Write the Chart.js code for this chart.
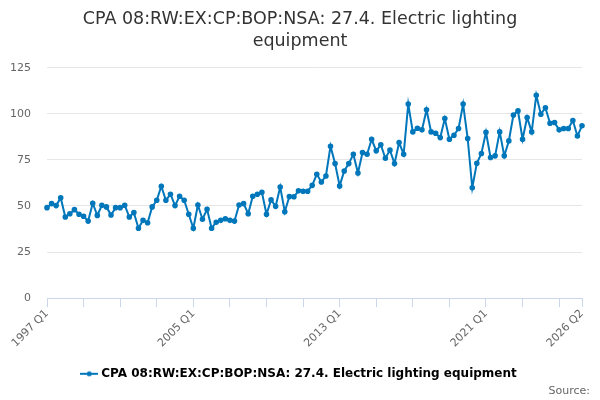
<!DOCTYPE html>
<html>
<head>
<meta charset="utf-8">
<script src="https://cdn.jsdelivr.net/npm/chart.js@4"></script>
<style>
  html, body { margin: 0; padding: 0; background: #fff; }
  #wrap { width: 600px; height: 400px; }
</style>
</head>
<body>
<div id="wrap"><canvas id="myChart"></canvas></div>
<script>
(() => {
  'use strict'

  const seriesName = 'CPA 08:RW:EX:CP:BOP:NSA: 27.4. Electric lighting equipment'
  const firstYear = 1997
  const quarters = ['Q1', 'Q2', 'Q3', 'Q4']
  const labelledQuarters = ['1997 Q1', '2005 Q1', '2013 Q1', '2021 Q1', '2026 Q2']
  const yTicks = [0, 25, 50, 75, 100, 125]

  // quarterly values, 1997 Q1 .. 2026 Q2
  const values = [
    49.1, 51.3, 50.2, 54.5, 44.0, 45.8, 48.0, 45.5, 44.4, 41.8,
    51.5, 44.9, 50.4, 49.5, 45.1, 49.1, 49.1, 50.4, 44.0, 46.4,
    37.9, 42.2, 40.9, 49.5, 53.1, 60.7, 53.1, 56.4, 50.2, 55.3,
    53.1, 45.5, 37.9, 50.5, 42.8, 48.2, 37.9, 41.2, 42.2, 43.1,
    42.2, 41.8, 50.5, 51.3, 45.8, 55.3, 56.4, 57.4, 45.5, 53.3,
    49.8, 60.3, 46.9, 55.1, 55.0, 58.2, 58.0, 58.0, 61.2, 67.2,
    63.0, 66.3, 82.4, 73.0, 60.9, 69.0, 73.0, 78.1, 67.9, 79.0,
    78.1, 86.2, 79.9, 83.2, 75.9, 80.3, 73.0, 84.4, 78.1, 105.3,
    90.2, 92.2, 91.3, 102.2, 90.2, 89.5, 87.1, 97.4, 86.2, 88.4,
    92.0, 105.3, 86.6, 59.9, 73.2, 78.5, 90.0, 76.3, 77.2, 90.2,
    77.2, 85.3, 99.3, 101.6, 86.2, 98.0, 90.2, 110.1, 99.8, 103.3,
    94.9, 95.3, 91.3, 92.0, 92.0, 96.4, 88.0, 93.5
  ]

  const labels = values.map((v, i) => (firstYear + Math.floor(i / 4)) + ' ' + quarters[i % 4])

  const lineColor = '#0077bb'
  const font = 'DejaVu Sans'

  // legend symbol: short line with a dot
  const symbol = document.createElement('canvas')
  symbol.width = 18
  symbol.height = 10
  const sctx = symbol.getContext('2d')
  sctx.strokeStyle = lineColor
  sctx.lineWidth = 2
  sctx.beginPath()
  sctx.moveTo(0, 5)
  sctx.lineTo(18, 5)
  sctx.stroke()
  sctx.fillStyle = lineColor
  sctx.beginPath()
  sctx.arc(9, 5, 2.5, 0, Math.PI * 2)
  sctx.fill()

  const ctx = document.getElementById('myChart')
  const myChart = new Chart(ctx, {
    type: 'line',
    data: {
      labels: labels,
      datasets: [{
        label: seriesName,
        data: values,
        borderColor: lineColor,
        backgroundColor: lineColor,
        borderWidth: 2,
        pointRadius: 1.8,
        pointHoverRadius: 3,
        pointBackgroundColor: lineColor,
        tension: 0
      }]
    },
    options: {
      responsive: true,
      maintainAspectRatio: false,
      animation: false,
      layout: { padding: { left: 10, right: 10, top: 4, bottom: 2 } },
      plugins: {
        title: {
          display: true,
          text: ['CPA 08:RW:EX:CP:BOP:NSA: 27.4. Electric lighting', 'equipment'],
          color: '#333333',
          font: { family: font, size: 17.5, weight: 'normal', lineHeight: 1.25 },
          padding: { top: 5, bottom: 15 }
        },
        subtitle: {
          display: true,
          position: 'bottom',
          align: 'end',
          text: 'Source:',
          color: '#666666',
          font: { family: font, size: 11 },
          padding: { top: -5, bottom: 0 }
        },
        legend: {
          position: 'bottom',
          labels: {
            color: '#333333',
            font: { family: font, size: 12, weight: 'bold' },
            usePointStyle: true,
            padding: 2,
            generateLabels: chart => chart.data.datasets.map((d, i) => ({
              text: d.label,
              pointStyle: symbol,
              fillStyle: lineColor,
              strokeStyle: lineColor,
              lineWidth: 0,
              datasetIndex: i
            }))
          }
        },
        tooltip: { enabled: false }
      },
      scales: {
        x: {
          grid: {
            display: true,
            drawOnChartArea: false,
            tickLength: 9,
            tickColor: c => (c.index % 8 === 0 || c.index === labels.length - 1) ? '#ccd6eb' : 'rgba(0,0,0,0)'
          },
          border: { color: '#ccd6eb', width: 1 },
          afterFit: axis => {
            axis.paddingLeft = 20
            axis.paddingRight = 18
            axis.height += 16
          },
          ticks: {
            autoSkip: false,
            minRotation: 45,
            maxRotation: 45,
            color: '#666666',
            font: { family: font, size: 11 },
            padding: 0,
            callback: function (val, i) {
              const l = labels[i]
              return labelledQuarters.includes(l) ? l : ''
            }
          }
        },
        y: {
          min: 0,
          max: 125,
          afterBuildTicks: axis => { axis.ticks = yTicks.map(v => ({ value: v })) },
          afterFit: axis => { axis.width = 37 },
          grid: { color: '#e6e6e6', tickLength: 0 },
          border: { display: false },
          ticks: {
            color: '#666666',
            font: { family: font, size: 11 },
            padding: 16
          }
        }
      }
    }
  })
})()
</script>
</body>
</html>
